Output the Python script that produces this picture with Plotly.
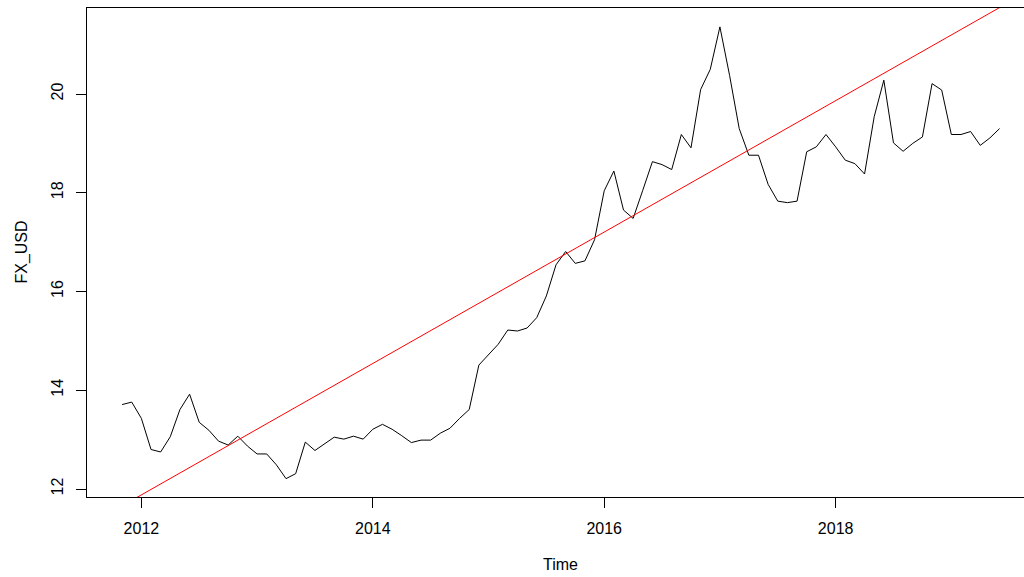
import plotly.graph_objects as go

# Monthly FX_USD series, November 2011 through June 2019
START_YEAR = 2011
START_MONTH = 11
FX_USD = [
    13.71, 13.76, 13.43, 12.80, 12.75, 13.06, 13.61, 13.92, 13.35, 13.19,
    12.97, 12.89, 13.07, 12.87, 12.71, 12.71, 12.49, 12.21, 12.31, 12.95,
    12.78, 12.91, 13.05, 13.01, 13.07, 13.01, 13.21, 13.31, 13.21, 13.08,
    12.94, 12.99, 12.99, 13.13, 13.23, 13.43, 13.61, 14.51, 14.71, 14.93,
    15.22, 15.20, 15.26, 15.47, 15.91, 16.54, 16.81, 16.57, 16.62, 17.05,
    18.04, 18.44, 17.65, 17.48, 18.05, 18.63, 18.57, 18.47, 19.18, 18.91,
    20.09, 20.50, 21.36, 20.38, 19.30, 18.76, 18.76, 18.17, 17.83, 17.80,
    17.83, 18.83, 18.93, 19.18, 18.93, 18.66, 18.59, 18.38, 19.54, 20.28,
    19.01, 18.84, 19.00, 19.13, 20.21, 20.08, 19.18, 19.18, 19.24, 18.96,
    19.11, 19.30,
]

# Linear trend (abline): value at 2012.0 and slope per year
TREND_AT_2012 = 11.881
TREND_SLOPE = 1.3307

X_TICKS = [2012, 2014, 2016, 2018]
Y_TICKS = [12, 14, 16, 18, 20]

X_RANGE = [2011.53, 2019.628]
Y_RANGE = [11.838, 21.742]

# decimal-year time index (ts with frequency 12)
t0 = START_YEAR + (START_MONTH - 1) / 12
time = [t0 + i / 12 for i in range(len(FX_USD))]

trend_x = X_RANGE
trend_y = [TREND_AT_2012 + TREND_SLOPE * (x - 2012) for x in trend_x]

FONT = "Arial, 'Liberation Sans', sans-serif"

fig = go.Figure()
fig.add_trace(go.Scatter(
    x=time, y=FX_USD, mode="lines",
    line=dict(color="black", width=1),
    showlegend=False, hoverinfo="x+y",
))
fig.add_trace(go.Scatter(
    x=trend_x, y=trend_y, mode="lines",
    line=dict(color="red", width=1),
    showlegend=False, hoverinfo="skip",
))

axis_common = dict(
    showgrid=False, zeroline=False,
    showline=True, linecolor="black", linewidth=1,
    ticks="outside", ticklen=10, tickwidth=1, tickcolor="black",
    tickfont=dict(family=FONT, size=16, color="black"),
)

fig.update_layout(
    width=1024, height=577,
    margin=dict(l=87, r=0, t=8, b=80),
    paper_bgcolor="white", plot_bgcolor="white",
    font=dict(family=FONT, size=16, color="black"),
    xaxis=dict(range=X_RANGE, tickvals=X_TICKS, mirror=True,
               ticklabelstandoff=7, **axis_common),
    yaxis=dict(range=Y_RANGE, tickvals=Y_TICKS, tickangle=-90,
               ticklabelstandoff=7, **axis_common),
    annotations=[
        dict(text="Time", xref="x", yref="paper",
             x=(X_RANGE[0] + 2019.72) / 2, y=-0.139,
             xanchor="center", yanchor="middle", showarrow=False,
             font=dict(family=FONT, size=16, color="black")),
        dict(text="FX_USD", xref="paper", yref="paper",
             x=-0.0704, y=0.5, textangle=-90,
             xanchor="center", yanchor="middle", showarrow=False,
             font=dict(family=FONT, size=16, color="black")),
    ],
)

fig.write_html("out.html")
